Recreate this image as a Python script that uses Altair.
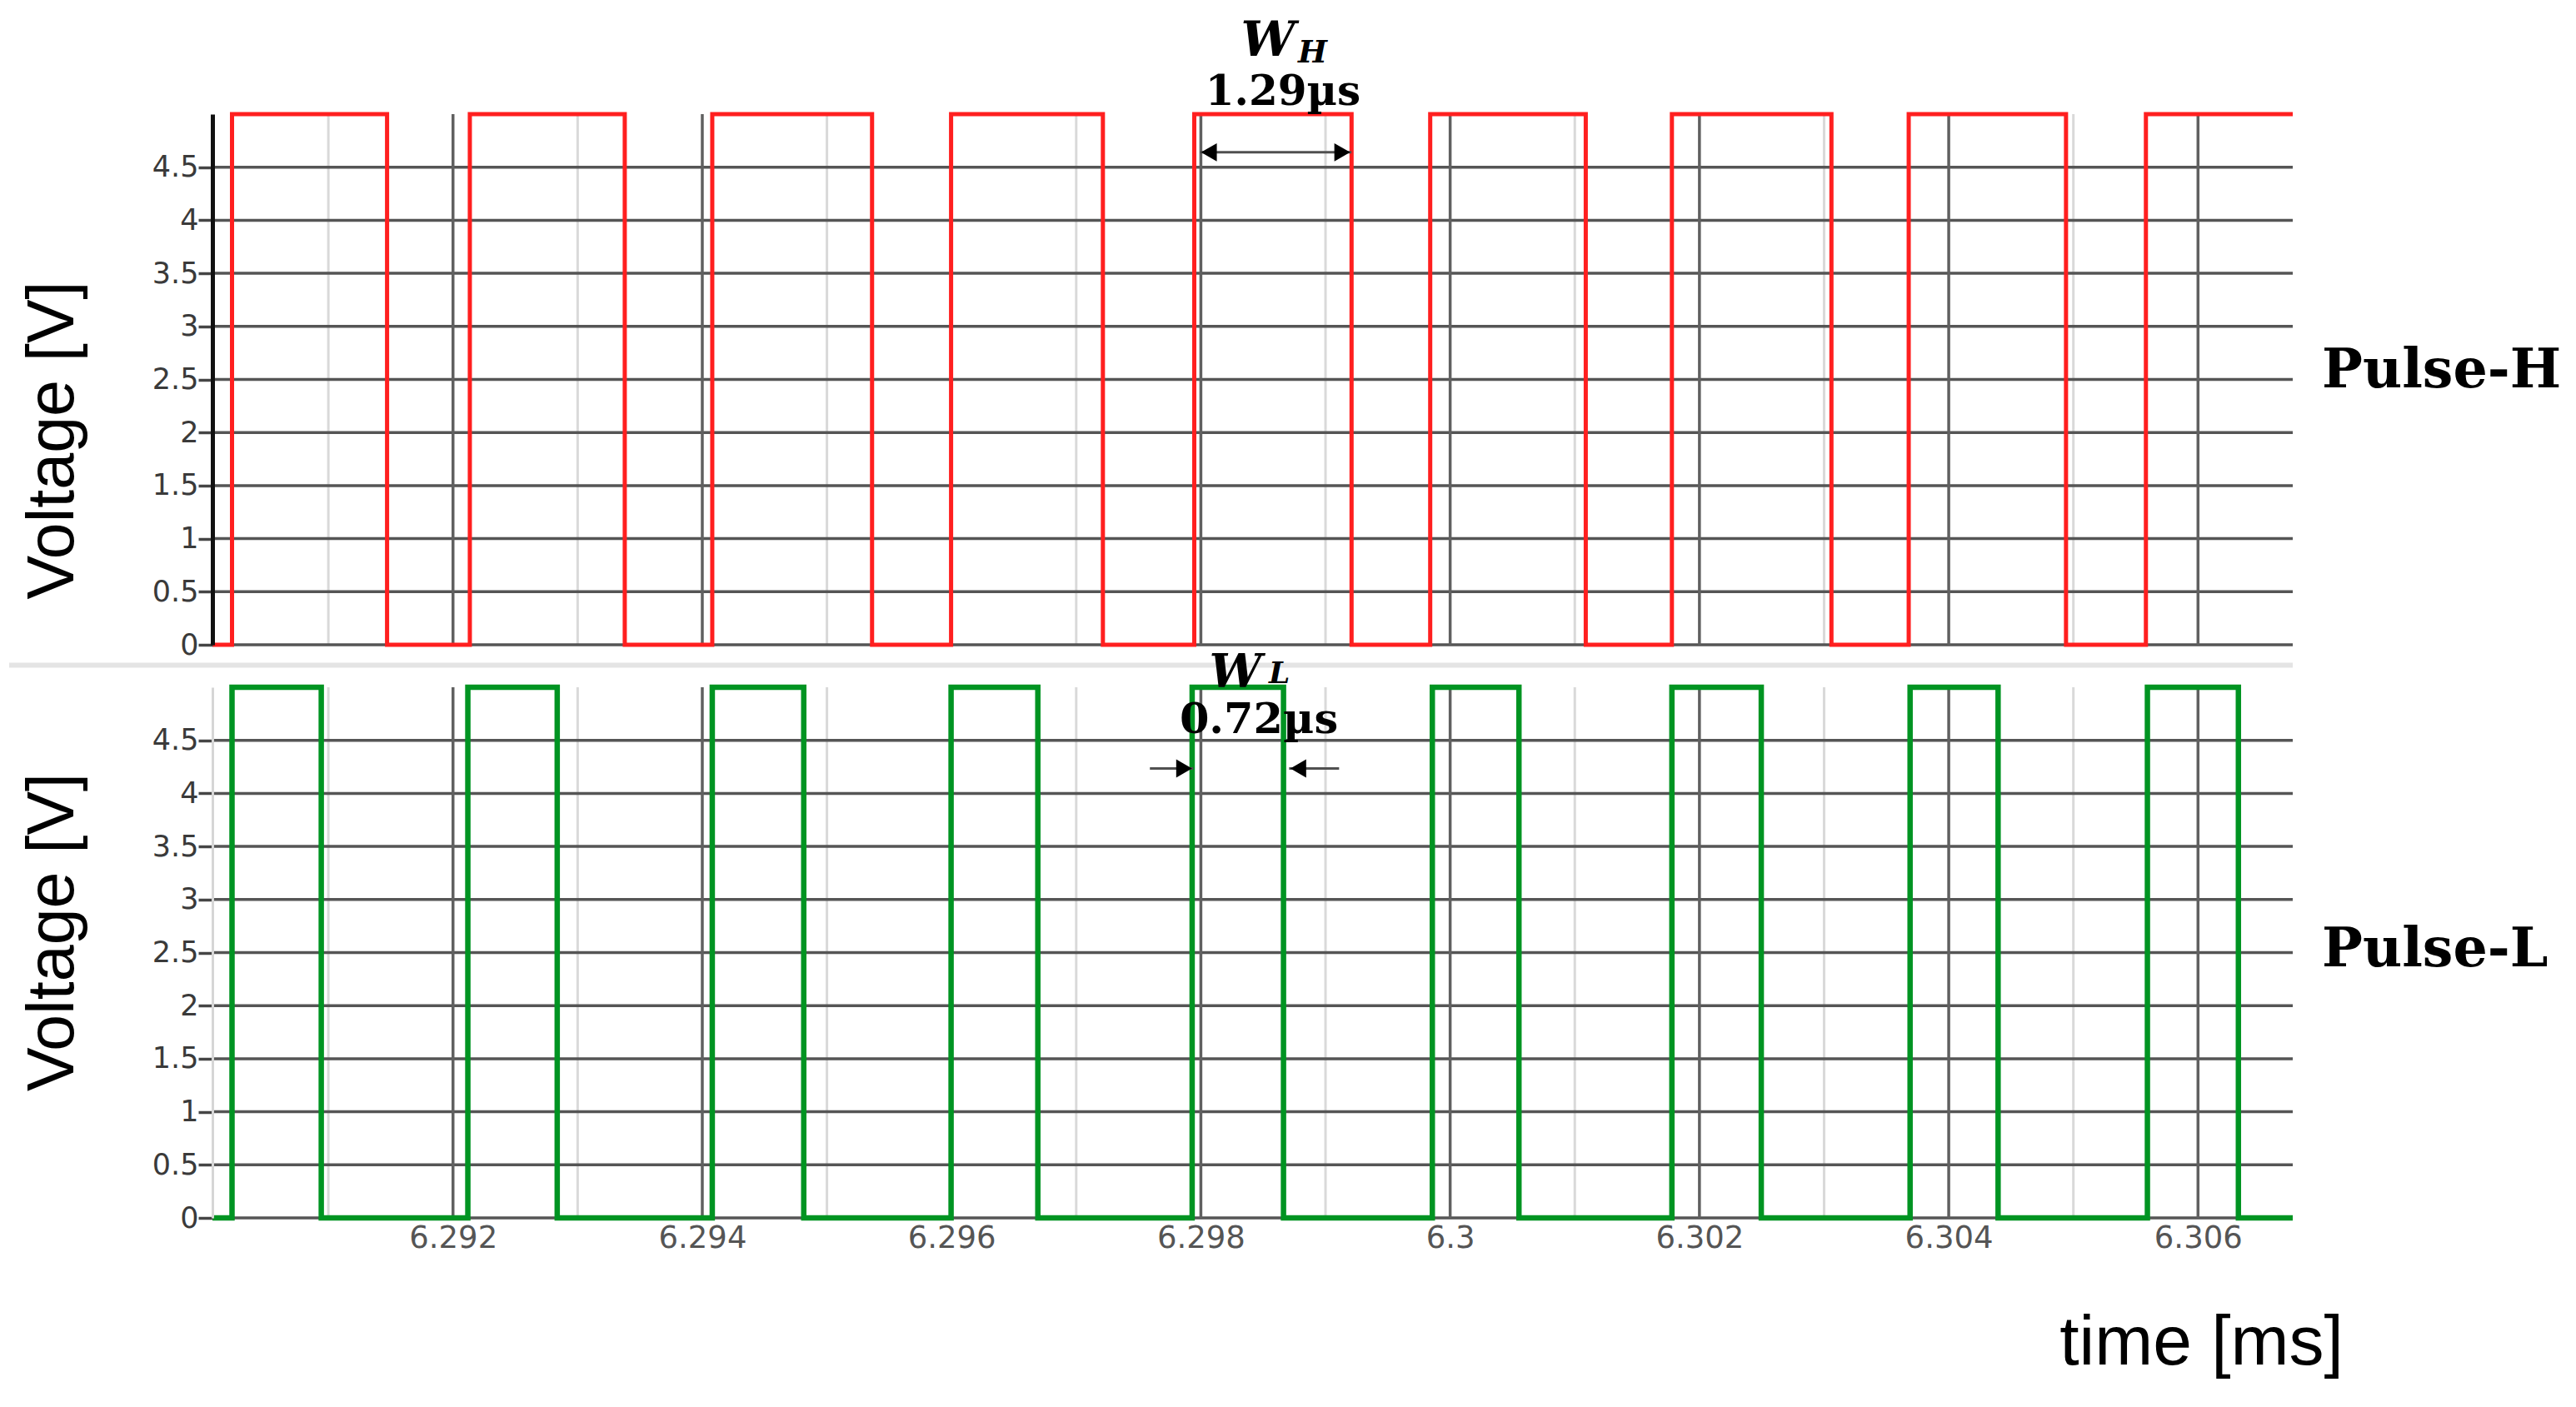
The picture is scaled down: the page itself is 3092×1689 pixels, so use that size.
import altair as alt
import pandas as pd

# ---------------- data ----------------
T_MIN, T_MAX = 6.29007, 6.30676          # time axis extent [ms]
V_LOW, V_HIGH = 0.0, 5.0                 # logic levels [V]

# Pulse-H (red) edge times [ms]
h_rise = [6.290227, 6.292135, 6.294080, 6.295996, 6.297947, 6.299840, 6.301779, 6.303679, 6.305582]
h_fall = [6.291471, 6.293378, 6.295362, 6.297214, 6.299209, 6.301088, 6.303059, 6.304941]
# Pulse-L (green) edge times [ms]
l_rise = [6.290227, 6.292119, 6.294080, 6.295996, 6.297930, 6.299857, 6.301779, 6.303690, 6.305594]
l_fall = [6.290943, 6.292836, 6.294814, 6.296692, 6.298663, 6.300552, 6.302496, 6.304396, 6.306324]

y_ticks = [0, 0.5, 1, 1.5, 2, 2.5, 3, 3.5, 4, 4.5]
x_major = [6.292, 6.294, 6.296, 6.298, 6.300, 6.302, 6.304, 6.306]
x_minor = [6.291, 6.293, 6.295, 6.297, 6.299, 6.301, 6.303, 6.305]

# width annotations
wh_span = [6.297991, 6.299208]
wh_level = 4.64
wh_value = "1.29µs"
wl_in_left = [6.297591, 6.297939]    # arrow pointing right (tail, tip)
wl_in_right = [6.299109, 6.298708]   # arrow pointing left (tail, tip)
wl_level = 4.235
wl_value = "0.72µs"

series_names = ["Pulse-H", "Pulse-L"]
series_colors = ["#ff1f1f", "#009422"]


def wave(rises, falls):
    edges = sorted([(t, V_HIGH) for t in rises] + [(t, V_LOW) for t in falls])
    pts = [(T_MIN, V_LOW)] + edges
    pts.append((T_MAX, pts[-1][1]))
    return pd.DataFrame(pts, columns=["t", "v"])


df_h = wave(h_rise, h_fall)
df_l = wave(l_rise, l_fall)

# ---------------- layout constants ----------------
W, H = 2497, 637

xs = alt.Scale(domain=[T_MIN, T_MAX], nice=False, zero=False)
ys = alt.Scale(domain=[V_LOW, V_HIGH], nice=False, zero=False)


def y_axis(domain_color, domain_width, title_y):
    return alt.Axis(
        values=y_ticks, format="~g", grid=False,
        domain=True, domainColor=domain_color, domainWidth=domain_width,
        ticks=True, tickColor="#454545", tickWidth=3.5, tickSize=17,
        labelFont="DejaVu Sans", labelFontSize=35, labelColor="#3a3a3a",
        labelPadding=0, labelFlush=False, labelOverlap=False,
        title="Voltage [V]", titleFont="Liberation Sans", titleFontSize=79,
        titleFontWeight="normal", titleColor="black",
        titleX=-150.4, titleY=title_y, titleAlign="center", titleBaseline="bottom",
        zindex=1,
    )


x_axis_bottom = alt.Axis(
    values=x_major, format="~g", grid=False, domain=False, ticks=False, tickSize=0,
    labelFont="DejaVu Sans", labelFontSize=37, labelColor="#555555",
    labelPadding=6, labelFlush=False, labelOverlap=False,
    title="time [ms]", titleFont="Liberation Sans", titleFontSize=84,
    titleFontWeight="normal", titleColor="black",
    titleX=2387, titleY=150.5, titleAlign="center", titleBaseline="middle",
)


def text_layer(label, x, y, size, style="normal", align="center", font="DejaVu Serif"):
    return alt.Chart(pd.DataFrame({"label": [label]})).mark_text(
        font=font, fontSize=size, fontWeight="bold", fontStyle=style,
        align=align, baseline="alphabetic", color="black",
    ).encode(x=alt.value(x), y=alt.value(y), text="label:N")


def panel(df, color, line_width, yax, xax, extra):
    X = alt.X("t:Q", scale=xs, axis=xax)
    Y = alt.Y("v:Q", scale=ys, axis=yax)
    minor = alt.Chart(pd.DataFrame({"t": x_minor})).mark_rule(
        color="#d9d9d9", strokeWidth=3).encode(x=X)
    hgrid = alt.Chart(pd.DataFrame({"v": y_ticks})).mark_rule(
        color="#555555", strokeWidth=3.5).encode(y=Y)
    major = alt.Chart(pd.DataFrame({"t": x_major})).mark_rule(
        color="#606060", strokeWidth=3.5).encode(x=X)
    line = alt.Chart(df).mark_line(
        color=color, strokeWidth=line_width, interpolate="step-after",
        strokeJoin="miter").encode(x=X, y=Y)
    layers = [minor, hgrid, major, line] + extra(X, Y)
    return alt.layer(*layers).properties(width=W, height=H)


def arrow_head(t, v, shape, offset):
    return alt.Chart(pd.DataFrame({"t": [t], "v": [v]})).mark_point(
        shape=shape, filled=True, color="black", opacity=1, size=480,
        xOffset=offset)


def top_extra(X, Y):
    shaft = alt.Chart(pd.DataFrame({"t": [wh_span[0]], "t2": [wh_span[1]], "v": [wh_level]})).mark_rule(
        color="#505050", strokeWidth=3).encode(x=X, x2="t2:Q", y=Y)
    hl = arrow_head(wh_span[0], wh_level, "triangle-left", 11).encode(x=X, y=Y)
    hr = arrow_head(wh_span[1], wh_level, "triangle-right", -11).encode(x=X, y=Y)
    marker = alt.Chart(pd.DataFrame({"k": [0]})).mark_rule(
        color="white", strokeWidth=1).encode(
        x=alt.value(-246.5), x2=alt.value(-245.5), y=alt.value(-128))
    return [
        shaft, hl, hr,
        text_layer("W", 1267, -70, 58, style="italic"),
        text_layer("H", 1303, -62, 37, style="italic", align="left"),
        text_layer(wh_value, 1285, -11.5, 50),
        text_layer(series_names[0], 2532, 327.5, 65, align="left"),
        marker,
    ]


def bottom_extra(X, Y):
    sep = alt.Chart(pd.DataFrame({"k": [0]})).mark_rule(
        color="#e4e4e4", strokeWidth=6).encode(
        x=alt.value(-244), x2=alt.value(W), y=alt.value(-26.5))
    s1 = alt.Chart(pd.DataFrame({"t": [wl_in_left[0]], "t2": [wl_in_left[1]], "v": [wl_level]})).mark_rule(
        color="#505050", strokeWidth=3).encode(x=X, x2="t2:Q", y=Y)
    s2 = alt.Chart(pd.DataFrame({"t": [wl_in_right[0]], "t2": [wl_in_right[1]], "v": [wl_level]})).mark_rule(
        color="#505050", strokeWidth=3).encode(x=X, x2="t2:Q", y=Y)
    h1 = arrow_head(wl_in_left[1], wl_level, "triangle-right", -11).encode(x=X, y=Y)
    h2 = arrow_head(wl_in_right[1], wl_level, "triangle-left", 11).encode(x=X, y=Y)
    return [
        sep, s1, s2, h1, h2,
        text_layer("W", 1228, 0, 56, style="italic"),
        text_layer("L", 1268, -5, 36, style="italic", align="left"),
        text_layer(wl_value, 1256, 54.5, 51),
        text_layer(series_names[1], 2532, 334.5, 65, align="left"),
    ]


top = panel(df_h, series_colors[0], 5, y_axis("#111111", 5, 391), None, top_extra)
bottom = panel(df_l, series_colors[1], 6.5, y_axis("#d6d6d6", 3, 293.5), x_axis_bottom, bottom_extra)

chart = alt.vconcat(top, bottom, spacing=51, bounds="flush").properties(
    padding=0, background="white"
).configure_view(stroke=None)

chart.save("out.html", embed_options={"renderer": "svg", "actions": False})
